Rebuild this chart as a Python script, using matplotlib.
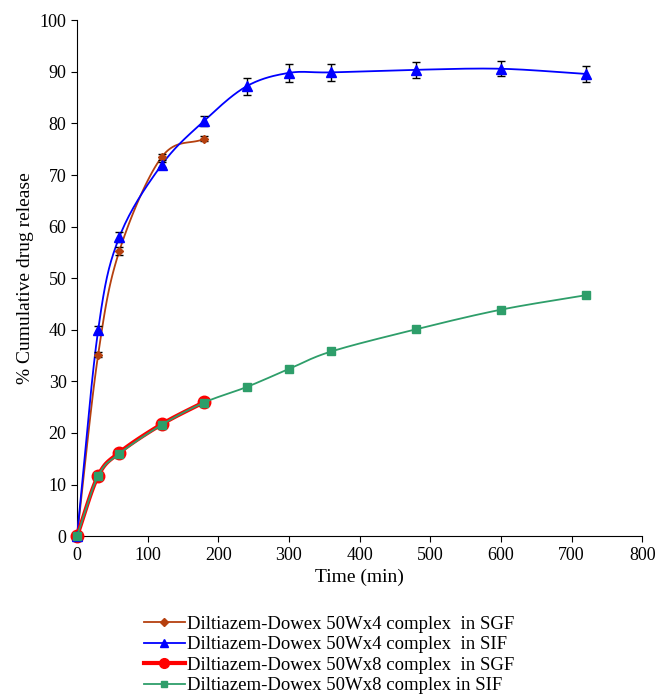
import numpy as np
import matplotlib
matplotlib.use("Agg")
import matplotlib.pyplot as plt

plt.rcParams['font.family'] = ['Liberation Serif', 'DejaVu Serif']

# data
t_sgf = [0, 30, 60, 120, 180]
t_sif = [0, 30, 60, 120, 180, 240, 300, 360, 480, 600, 720]

x4_sgf = [0, 35.2, 55.3, 73.5, 77.0]
x4_sgf_err = [0, 0.5, 0.8, 0.5, 0.5]
x4_sif = [0, 40.0, 58.0, 72.0, 80.5, 87.2, 89.8, 89.9, 90.4, 90.6, 89.6]
x4_sif_err = [0, 0.7, 1.0, 0.5, 1.0, 1.7, 1.8, 1.6, 1.5, 1.5, 1.6]
x8_sgf = [0, 11.7, 16.2, 21.7, 26.0]
x8_sif = [0, 11.7, 16.0, 21.6, 25.9, 28.9, 32.4, 35.8, 40.1, 43.9, 46.7]

labels = ["Diltiazem-Dowex 50Wx4 complex  in SGF",
          "Diltiazem-Dowex 50Wx4 complex  in SIF",
          "Diltiazem-Dowex 50Wx8 complex  in SGF",
          "Diltiazem-Dowex 50Wx8 complex in SIF"]


def smooth(x, y, n=20):
    # catmull-rom through the points, like excel's smoothed lines
    x = np.asarray(x, float)
    y = np.asarray(y, float)
    px = np.concatenate([[2 * x[0] - x[1]], x, [2 * x[-1] - x[-2]]])
    py = np.concatenate([[2 * y[0] - y[1]], y, [2 * y[-1] - y[-2]]])
    xs, ys = [], []
    s = np.linspace(0, 1, n)
    for i in range(1, len(px) - 2):
        for p, out in ((px, xs), (py, ys)):
            p0, p1, p2, p3 = p[i - 1], p[i], p[i + 1], p[i + 2]
            out.extend(0.5 * (2 * p1 + (-p0 + p2) * s
                              + (2 * p0 - 5 * p1 + 4 * p2 - p3) * s ** 2
                              + (-p0 + 3 * p1 - 3 * p2 + p3) * s ** 3))
    return np.array(xs), np.array(ys)


fig = plt.figure(figsize=(6.58, 6.99), dpi=100)
ax = fig.add_axes([0.117, 0.233, 0.859, 0.738])

c1, c2, c3, c4 = '#b5400f', '#0000ff', '#ff0000', '#2e9e6a'

sx, sy = smooth(t_sgf, x4_sgf)
ax.plot(sx, sy, color=c1, lw=1.3, zorder=3)
ax.errorbar(t_sgf, x4_sgf, yerr=x4_sgf_err, fmt='D', color=c1, ms=4,
            ecolor='black', elinewidth=1, capsize=3, zorder=4)

sx, sy = smooth(t_sif, x4_sif)
ax.plot(sx, sy, color=c2, lw=1.3, zorder=3)
ax.errorbar(t_sif, x4_sif, yerr=x4_sif_err, fmt='^', color=c2, ms=7,
            ecolor='black', elinewidth=1, capsize=3, zorder=4)

sx, sy = smooth(t_sgf, x8_sgf)
ax.plot(sx, sy, color=c3, lw=3, zorder=3)
ax.plot(t_sgf, x8_sgf, 'o', color=c3, ms=9, zorder=4)

sx, sy = smooth(t_sif, x8_sif)
ax.plot(sx, sy, color=c4, lw=1.3, zorder=5)
ax.plot(t_sif, x8_sif, 's', color=c4, ms=6, zorder=6)

# legend proxies
h1, = ax.plot([], [], color=c1, marker='D', ms=4, lw=1.3)
h2, = ax.plot([], [], color=c2, marker='^', ms=6, lw=1.3)
h3, = ax.plot([], [], color=c3, marker='o', ms=7, lw=3)
h4, = ax.plot([], [], color=c4, marker='s', ms=5, lw=1.3)
fig.legend([h1, h2, h3, h4], labels, loc='upper center',
           bbox_to_anchor=(0.5, 0.13), frameon=False, fontsize=13.5,
           handlelength=2.2, handletextpad=0.1, labelspacing=0.18,
           borderaxespad=0)

ax.set_xlim(0, 800)
ax.set_ylim(0, 100)
ax.set_xticks(range(0, 801, 100))
ax.set_yticks(range(0, 101, 10))
ax.spines['top'].set_visible(False)
ax.spines['right'].set_visible(False)
ax.tick_params(direction='out', labelsize=13, length=4)
ax.set_xlabel("Time (min)", fontsize=14)
ax.set_ylabel("% Cumulative drug release", fontsize=14)
for ln in ax.get_lines():
    ln.set_clip_on(False)

fig.savefig("out.png", dpi=100)
